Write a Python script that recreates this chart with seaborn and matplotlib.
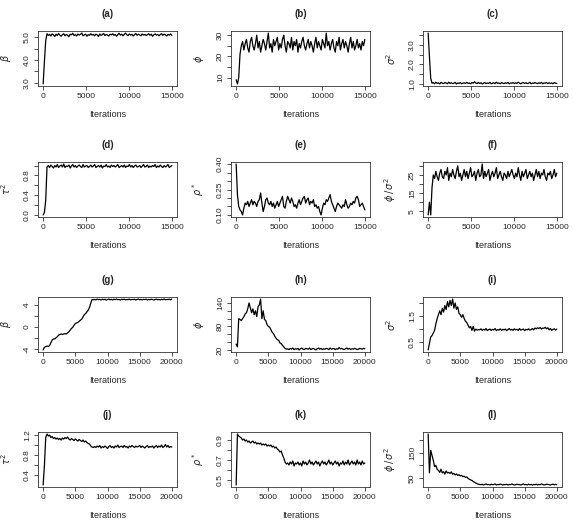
import numpy as np
import pandas as pd
import matplotlib
matplotlib.use("Agg")
import matplotlib.pyplot as plt
import seaborn as sns

# ---------------- data ----------------
panel_letters = ["(a)", "(b)", "(c)", "(d)", "(e)", "(f)",
                 "(g)", "(h)", "(i)", "(j)", "(k)", "(l)"]
panel_ylabels = [r"$\beta$", r"$\phi$", r"$\sigma^2$", r"$\tau^2$", r"$\rho^*$", r"$\phi\,/\,\sigma^2$",
                 r"$\beta$", r"$\phi$", r"$\sigma^2$", r"$\tau^2$", r"$\rho^*$", r"$\phi\,/\,\sigma^2$"]
n_iterations = [15000, 15000, 15000, 15000, 15000, 15000,
                20000, 20000, 20000, 20000, 20000, 20000]
x_ticks_15k = [0, 5000, 10000, 15000]
x_ticks_20k = [0, 5000, 10000, 15000, 20000]

beta_a = [2.95, 3.95, 4.85, 5.15, 5.08, 5.12, 5.05, 5.14, 5.10, 5.03, 5.13, 5.07, 5.16, 5.09, 5.04, 5.11,
          5.15, 5.06, 5.12, 5.08, 5.02, 5.13, 5.10, 5.17, 5.07, 5.11, 5.05, 5.14, 5.09, 5.12, 5.18, 5.06,
          5.10, 5.13, 5.04, 5.11, 5.08, 5.15, 5.09, 5.12, 5.06, 5.13, 5.10, 5.03, 5.14, 5.08, 5.11, 5.16,
          5.07, 5.12, 5.09, 5.05, 5.13, 5.10, 5.15, 5.08, 5.12, 5.04, 5.11, 5.17, 5.09, 5.13, 5.06, 5.12,
          5.18, 5.10, 5.07, 5.14, 5.09, 5.12, 5.05, 5.11, 5.16, 5.08, 5.13, 5.10, 5.06, 5.14, 5.09, 5.12,
          5.07, 5.11, 5.15, 5.08, 5.13, 5.04, 5.10, 5.14, 5.09, 5.12, 5.06, 5.11, 5.15, 5.08, 5.13, 5.10,
          5.05, 5.12, 5.09, 5.14, 5.08]
phi_b = [9, 7, 10, 21, 25, 27, 23, 26, 28, 24, 22, 27, 29, 25, 23, 26, 30, 24, 27, 22, 25, 28, 26, 23, 27,
         31, 24, 26, 22, 28, 25, 27, 29, 23, 26, 24, 28, 30, 25, 22, 27, 26, 24, 29, 23, 27, 25, 28, 22, 26,
         24, 27, 29, 25, 23, 26, 28, 24, 27, 25, 22, 26, 29, 24, 27, 25, 23, 28, 26, 24, 31, 25, 27, 23, 26,
         28, 24, 22, 27, 25, 29, 23, 26, 28, 24, 27, 25, 22, 26, 29, 24, 27, 23, 25, 28, 24, 26, 23, 27, 25, 28]
sigma2_c = [3.6, 2.4, 1.3, 1.05, 1.08, 1.02, 1.10, 1.04, 1.07, 1.01, 1.09, 1.05, 1.03, 1.08, 1.06, 1.02,
            1.10, 1.04, 1.07, 1.03, 1.05, 1.09, 1.01, 1.06, 1.04, 1.08, 1.02, 1.05, 1.07, 1.03, 1.09, 1.04,
            1.06, 1.02, 1.08, 1.05, 1.12, 1.06, 1.03, 1.09, 1.04, 1.07, 1.01, 1.05, 1.08, 1.03, 1.06, 1.04,
            1.09, 1.02, 1.05, 1.07, 1.03, 1.10, 1.04, 1.06, 1.02, 1.08, 1.05, 1.03, 1.07, 1.04, 1.09, 1.02,
            1.06, 1.05, 1.08, 1.03, 1.07, 1.04, 1.10, 1.05, 1.02, 1.06, 1.08, 1.04, 1.07, 1.03, 1.05, 1.09,
            1.02, 1.06, 1.04, 1.08, 1.05, 1.03, 1.07, 1.04, 1.09, 1.02, 1.06, 1.05, 1.08, 1.03, 1.07, 1.04,
            1.06, 1.02, 1.08, 1.05, 1.04]
tau2_d = [0.0, 0.05, 0.3, 0.97, 1.0, 0.96, 1.01, 0.98, 0.95, 1.00, 0.97, 1.02, 0.96, 0.99, 1.01, 0.97,
          1.03, 0.96, 0.99, 0.98, 1.01, 0.95, 0.99, 1.02, 0.97, 1.00, 0.96, 0.99, 1.01, 0.98, 0.96, 1.02,
          0.97, 0.99, 1.00, 0.96, 0.98, 1.01, 0.97, 0.99, 1.02, 0.96, 0.98, 1.00, 0.97, 1.01, 0.95, 0.99,
          0.98, 1.02, 0.97, 0.99, 0.96, 1.01, 0.98, 1.00, 0.97, 0.99, 1.02, 0.96, 0.98, 1.00, 0.97, 1.01,
          0.96, 0.99, 0.98, 1.02, 0.97, 1.00, 0.96, 0.99, 1.01, 0.97, 0.98, 1.00, 0.96, 0.99, 1.02, 0.97,
          0.98, 1.01, 0.96, 0.99, 0.97, 1.00, 0.98, 1.02, 0.96, 0.99, 0.97, 1.01, 0.98, 0.96, 1.00, 0.97,
          0.99, 1.02, 0.96, 0.98, 1.00]
rho_e = [0.40, 0.22, 0.15, 0.13, 0.12, 0.10, 0.14, 0.17, 0.16, 0.18, 0.15, 0.17, 0.19, 0.16, 0.18, 0.17,
         0.15, 0.18, 0.19, 0.23, 0.17, 0.12, 0.15, 0.19, 0.20, 0.17, 0.16, 0.18, 0.15, 0.17, 0.14, 0.16,
         0.18, 0.15, 0.17, 0.19, 0.21, 0.15, 0.14, 0.18, 0.21, 0.19, 0.17, 0.20, 0.18, 0.15, 0.16, 0.14,
         0.17, 0.19, 0.16, 0.18, 0.20, 0.21, 0.17, 0.19, 0.20, 0.16, 0.18, 0.17, 0.19, 0.15, 0.16, 0.14,
         0.15, 0.12, 0.10, 0.14, 0.17, 0.16, 0.19, 0.18, 0.20, 0.22, 0.18, 0.16, 0.14, 0.12, 0.15, 0.17,
         0.16, 0.15, 0.14, 0.16, 0.15, 0.19, 0.16, 0.14, 0.15, 0.17, 0.16, 0.18, 0.17, 0.20, 0.21, 0.19,
         0.15, 0.16, 0.17, 0.15, 0.13]
ratio_f = [3, 10, 3, 18, 25, 23, 27, 24, 22, 26, 28, 24, 23, 27, 25, 29, 22, 26, 24, 28, 25, 23, 27, 30, 24,
           26, 22, 25, 28, 24, 27, 23, 26, 29, 24, 25, 27, 22, 26, 28, 24, 25, 31, 23, 27, 24, 26, 28, 22, 25,
           27, 24, 26, 29, 23, 25, 27, 24, 22, 26, 25, 23, 27, 24, 26, 28, 25, 23, 26, 24, 29, 25, 22, 27, 24,
           26, 28, 23, 25, 27, 24, 26, 22, 25, 28, 24, 27, 23, 26, 25, 28, 24, 22, 26, 25, 27, 23, 25, 28, 24, 26]
beta_g = [-4.2, -3.7, -3.6, -3.5, -3.55, -3.4, -2.9, -2.4, -2.2, -2.2, -2.0, -1.8, -1.5, -1.4, -1.3, -1.4,
          -1.3, -1.25, -1.3, -1.1, -0.9, -0.6, -0.3, -0.1, 0.3, 0.6, 0.7, 0.8, 1.0, 1.2, 1.4, 1.8, 2.2, 2.4,
          2.7, 3.0, 3.5, 4.3, 4.95, 4.9,
          4.95, 4.88, 5.02, 4.92, 4.97, 4.86, 5.00, 4.93, 4.98, 4.84, 4.95, 5.01, 4.90, 4.96, 4.87, 4.99,
          4.93, 5.03, 4.91, 4.96, 4.85, 4.98, 4.94, 5.00, 4.89, 4.95, 4.92, 5.01, 4.87, 4.97, 4.93, 4.99,
          4.86, 4.95, 5.02, 4.90, 4.96, 4.88, 4.98, 4.93, 5.00, 4.87, 4.95, 4.91, 4.99, 4.94, 4.86, 4.97,
          5.01, 4.90, 4.95, 4.88, 4.98, 4.92, 5.03, 4.89, 4.96, 4.93, 4.99, 4.90, 5.02]
phi_h = [35, 28, 100, 98, 95, 100, 105, 112, 115, 125, 140, 128, 115, 125, 110, 120, 105, 130, 135, 150,
         100, 120, 98, 95, 85, 80, 78, 72, 65, 62, 55, 50, 46, 45, 38, 36, 32, 28, 24, 22,
         23, 21, 24, 22, 25, 21, 23, 22, 24, 20, 23, 25, 22, 21, 24, 23, 22, 25, 21, 23, 24, 22, 20, 23, 25,
         22, 24, 21, 23, 22, 24, 23, 21, 25, 22, 23, 24, 21, 23, 22, 26, 23, 24, 22, 21, 23, 25, 22, 24, 21,
         23, 22, 24, 23, 21, 22, 24, 23, 22, 24, 23]
sigma2_i = [0.2, 0.45, 0.7, 0.75, 0.85, 0.95, 1.2, 1.4, 1.55, 1.7, 1.55, 1.8, 1.65, 1.9, 1.75, 2.05, 1.85,
            2.1, 1.9, 2.15, 1.8, 2.0, 1.75, 1.85, 1.6, 1.55, 1.45, 1.55, 1.4, 1.3, 1.25, 1.15, 1.05, 1.1,
            0.95, 1.1, 0.92, 1.0, 0.96, 0.98,
            0.97, 1.01, 0.95, 0.99, 0.96, 1.02, 0.94, 0.98, 1.00, 0.95, 0.99, 0.97, 1.02, 0.94, 0.98, 0.96,
            1.01, 0.95, 0.99, 0.97, 1.00, 0.94, 0.98, 1.02, 0.96, 0.99, 0.95, 1.01, 0.97, 0.99, 0.95, 1.02,
            0.96, 0.98, 1.00, 0.94, 0.99, 0.97, 1.01, 0.96, 0.98, 1.02, 0.97, 1.04, 1.01, 1.05, 1.02, 1.06,
            1.00, 1.04, 1.03, 1.07, 1.01, 1.05, 0.97, 1.02, 0.95, 0.99, 1.01, 0.96, 1.00]
tau2_j = [0.2, 0.6, 1.15, 1.22, 1.18, 1.2, 1.15, 1.17, 1.13, 1.15, 1.12, 1.14, 1.11, 1.13, 1.10, 1.14,
          1.12, 1.15, 1.13, 1.16, 1.12, 1.10, 1.13, 1.11, 1.09, 1.12, 1.10, 1.08, 1.11, 1.09, 1.07, 1.10,
          1.06, 1.08, 1.05, 1.03, 1.02, 0.98, 0.96, 0.95,
          0.97, 0.95, 0.98, 0.96, 0.99, 0.94, 0.97, 0.95, 0.98, 0.96, 0.93, 0.97, 0.99, 0.95, 0.97, 0.94,
          0.98, 0.96, 1.00, 0.95, 0.97, 0.98, 0.95, 0.99, 0.96, 0.97, 0.94, 0.98, 0.96, 0.99, 0.97, 0.95,
          0.98, 0.96, 0.97, 0.99, 0.95, 0.98, 0.96, 0.94, 0.97, 0.99, 0.95, 0.97, 0.96, 0.98, 0.94, 0.97,
          0.99, 0.95, 0.98, 0.96, 1.00, 0.95, 0.97, 1.01, 0.96, 0.99, 0.95, 0.97, 0.96]
rho_k = [0.45, 0.96, 0.94, 0.93, 0.92, 0.90, 0.91, 0.89, 0.90, 0.88, 0.89, 0.87, 0.88, 0.89, 0.87, 0.88,
         0.86, 0.87, 0.86, 0.87, 0.85, 0.86, 0.85, 0.86, 0.84, 0.85, 0.84, 0.85, 0.83, 0.84, 0.82, 0.83,
         0.81, 0.80, 0.78, 0.79, 0.75, 0.72, 0.68, 0.66,
         0.67, 0.65, 0.68, 0.66, 0.69, 0.64, 0.67, 0.66, 0.68, 0.65, 0.67, 0.64, 0.69, 0.66, 0.68, 0.65,
         0.67, 0.70, 0.66, 0.68, 0.65, 0.67, 0.69, 0.66, 0.68, 0.64, 0.67, 0.69, 0.66, 0.68, 0.65, 0.67,
         0.70, 0.66, 0.68, 0.65, 0.67, 0.69, 0.66, 0.68, 0.64, 0.67, 0.66, 0.69, 0.65, 0.68, 0.66, 0.70,
         0.65, 0.67, 0.69, 0.66, 0.68, 0.65, 0.70, 0.66, 0.68, 0.65, 0.69, 0.66, 0.67]
ratio_l = [225, 70, 160, 140, 120, 95, 100, 85, 80, 72, 85, 70, 75, 65, 78, 70, 72, 68, 74, 65, 68, 62,
           66, 60, 63, 58, 60, 55, 57, 52, 54, 48, 45, 42, 40, 36, 33, 30, 27, 25,
           24, 23, 25, 22, 24, 26, 23, 24, 22, 25, 23, 24, 26, 22, 24, 23, 25, 24, 22, 24, 23, 25, 22, 24,
           23, 26, 24, 22, 23, 25, 24, 23, 22, 24, 26, 23, 24, 22, 25, 23, 24, 22, 24, 23, 25, 22, 24, 23,
           26, 24, 22, 23, 25, 24, 23, 22, 24, 25, 23, 24, 23]

series = [beta_a, phi_b, sigma2_c, tau2_d, rho_e, ratio_f,
          beta_g, phi_h, sigma2_i, tau2_j, rho_k, ratio_l]

# y tick positions and which of them carry a label
y_ticks = [[3.0, 3.5, 4.0, 4.5, 5.0], [10, 15, 20, 25, 30], [1.0, 1.5, 2.0, 2.5, 3.0, 3.5],
           [0.0, 0.2, 0.4, 0.6, 0.8, 1.0], [0.10, 0.15, 0.20, 0.25, 0.30, 0.35, 0.40], [5, 10, 15, 20, 25, 30],
           [-4, -2, 0, 2, 4], [20, 40, 60, 80, 100, 120, 140], [0.5, 1.0, 1.5, 2.0],
           [0.4, 0.6, 0.8, 1.0, 1.2], [0.5, 0.6, 0.7, 0.8, 0.9], [50, 100, 150, 200]]
y_labels = [["3.0", "", "4.0", "", "5.0"], ["10", "", "20", "", "30"], ["1.0", "", "2.0", "", "3.0", ""],
            ["0.0", "", "0.4", "", "0.8", ""], ["0.10", "", "", "0.25", "", "", "0.40"], ["5", "", "15", "", "25", ""],
            ["-4", "", "0", "", "4"], ["20", "", "", "80", "", "", "140"], ["0.5", "", "1.5", ""],
            ["0.4", "", "0.8", "", "1.2"], ["0.5", "", "0.7", "", "0.9"], ["50", "", "150", ""]]

# ---------------- style ----------------
sns.set_style("ticks")
plt.rcParams["font.family"] = ["Liberation Sans", "DejaVu Sans"]
plt.rcParams["mathtext.fontset"] = "dejavusans"

fig = plt.figure(figsize=(5.73, 5.23), dpi=100)

col_left = [38 / 573, 231 / 573, 423 / 573]
ax_w = 139 / 573
row_bottom = [1 - 86 / 523, 1 - 217 / 523, 1 - 352 / 523, 1 - 487 / 523]
ax_h = 55 / 523

for k in range(12):
    r, c = divmod(k, 3)
    ax = fig.add_axes([col_left[c], row_bottom[r], ax_w, ax_h])
    vals = series[k]
    it = np.linspace(0, n_iterations[k], len(vals))
    df = pd.DataFrame({"iteration": it, "value": vals})
    sns.lineplot(data=df, x="iteration", y="value", ax=ax, color="black",
                 linewidth=0.9, estimator=None, sort=False)
    ax.margins(x=0.04, y=0.04)
    for s in ax.spines.values():
        s.set_visible(True)
        s.set_linewidth(0.6)
        s.set_color("#333333")
    xt = x_ticks_15k if n_iterations[k] == 15000 else x_ticks_20k
    ax.set_xticks(xt)
    ax.set_xticklabels([str(v) for v in xt])
    ax.set_yticks(y_ticks[k])
    ax.set_yticklabels(y_labels[k])
    ax.tick_params(axis="both", direction="out", length=3, width=0.6, labelsize=6, pad=2,
                   color="#333333")
    for lab in ax.get_yticklabels():
        lab.set_rotation(90)
        lab.set_va("center")
    ax.set_xlabel("Iterations", fontsize=6.5, labelpad=7)
    ax.set_ylabel(panel_ylabels[k], fontsize=7, labelpad=8)
    ax.set_title(panel_letters[k], fontsize=7, fontweight="bold", pad=10)

fig.savefig("out.png", dpi=100)
